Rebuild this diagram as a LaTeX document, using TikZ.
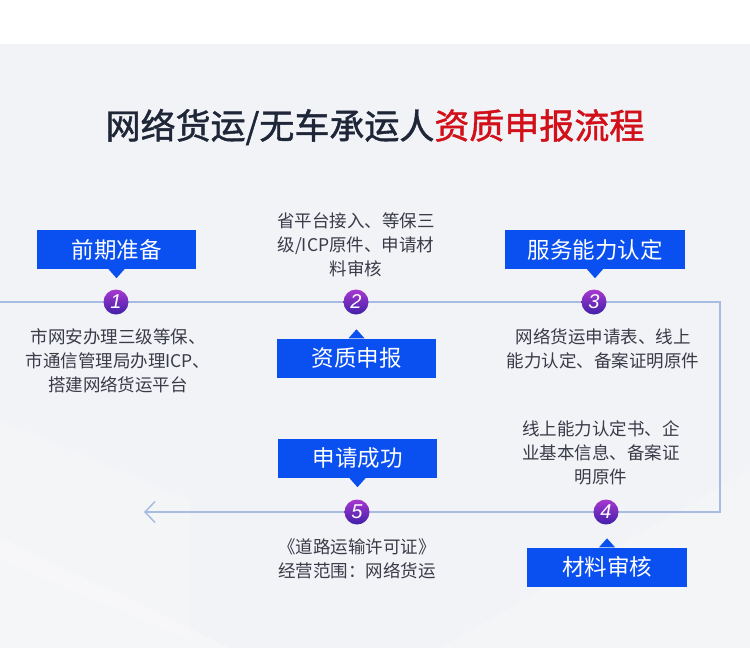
\documentclass[tikz,border=0pt]{standalone}
\usepackage{fontspec}
\setmainfont{Noto Sans CJK SC}
\newfontfamily\cjk{Noto Sans CJK SC}
\newfontfamily\cjktitle{Noto Sans CJK SC}[FakeBold=1.3]
\newfontfamily\numfont{Liberation Sans}
\usetikzlibrary{arrows.meta}
\definecolor{bgray}{HTML}{F1F3F6}
\definecolor{boxblue}{HTML}{0A50F0}
\definecolor{linec}{HTML}{A8BCE2}
\definecolor{titled}{HTML}{1E2638}
\definecolor{titler}{HTML}{D2101A}
\definecolor{txt}{HTML}{3A3B48}
\definecolor{ctop}{HTML}{A838D0}
\definecolor{cbot}{HTML}{4020A8}
\definecolor{glow}{HTML}{DCE3F2}
\begin{document}
\begin{tikzpicture}[x=1pt,y=-1pt,
  stagebox/.style={fill=boxblue, text=white, minimum width=159pt, minimum height=39pt, inner sep=0pt, font=\cjk\fontsize{22.5}{22.5}\selectfont},
  numdot/.style={circle, minimum size=25pt, inner sep=0pt, top color=ctop, bottom color=cbot, draw=none, text=white, font=\numfont\itshape\fontsize{20}{20}\selectfont},
  desc/.style={align=center, text=txt, font=\cjk\fontsize{17.5}{24}\selectfont, inner sep=0pt},
  flow/.style={draw=linec, line width=1.5pt},
  pointer/.style={fill=boxblue}]
\useasboundingbox (0,0) rectangle (750,651);
\fill[white] (0,0) rectangle (750,651);
\fill[bgray] (0,44) rectangle (750,648);
% faint background facets
\fill[white, opacity=0.3] (0,537) -- (230,648) -- (0,648) -- cycle;
\fill[white, opacity=0.2] (0,420) -- (190,500) -- (190,640) -- (0,560) -- cycle;
\fill[white, opacity=0.2] (440,648) -- (750,470) -- (750,648) -- cycle;

% title
\node (title) at (375,127) {\cjktitle\fontsize{35}{35}\selectfont\color{titled}网络货运/无车承运人\color{titler}资质申报流程};

% flow line
\coordinate (start) at (0,302);
\coordinate (cornerA) at (720,302);
\coordinate (cornerB) at (720,512);
\coordinate (finish) at (144,512);
\draw[flow, -{Straight Barb[length=10pt,width=21pt,line width=1.5pt]}] (start) -- (cornerA) -- (cornerB) -- (finish);

% numbered dots
\node[numdot] (c1) at (116,302) {1};
\node[numdot] (c2) at (356,302) {2};
\node[numdot] (c3) at (594,302) {3};
\node[numdot] (c4) at (606,512) {4};
\node[numdot] (c5) at (357,512) {5};

% boxes
\node[stagebox] (b1) at (116.5,249.5) {前期准备};
\fill[pointer] ([xshift=-8pt]b1.south) -- ([yshift=-9pt]b1.south) -- ([xshift=8pt]b1.south) -- cycle;
\node[stagebox] (b2) at (356.5,358) {资质申报};
\fill[pointer] ([xshift=-8pt]b2.north) -- ([yshift=9pt]b2.north) -- ([xshift=8pt]b2.north) -- cycle;
\node[stagebox, minimum width=180pt] (b3) at (595,249.5) {服务能力认定};
\fill[pointer] ([xshift=-8pt]b3.south) -- ([yshift=-9pt]b3.south) -- ([xshift=8pt]b3.south) -- cycle;
\node[stagebox, minimum width=160pt] (b4) at (607,567) {材料审核};
\fill[pointer] ([xshift=-8pt]b4.north) -- ([yshift=9pt]b4.north) -- ([xshift=8pt]b4.north) -- cycle;
\node[stagebox] (b5) at (357.5,458.5) {申请成功};
\fill[pointer] ([xshift=-8pt]b5.south) -- ([yshift=-9pt]b5.south) -- ([xshift=8pt]b5.south) -- cycle;

% descriptions
\node[desc] (t1) at (118,361) {市网安办理三级等保、\\市通信管理局办理ICP、\\搭建网络货运平台};
\node[desc] (t2) at (356,245) {省平台接入、等保三\\级/ICP原件、申请材\\料审核};
\node[desc] (t3) at (603,349) {网络货运申请表、线上\\能力认定、备案证明原件};
\node[desc] (t4) at (601,453) {线上能力认定书、企\\业基本信息、备案证\\明原件};
\node[desc] (t5) at (357,559) {《道路运输许可证》\\经营范围：网络货运};
\end{tikzpicture}
\end{document}
